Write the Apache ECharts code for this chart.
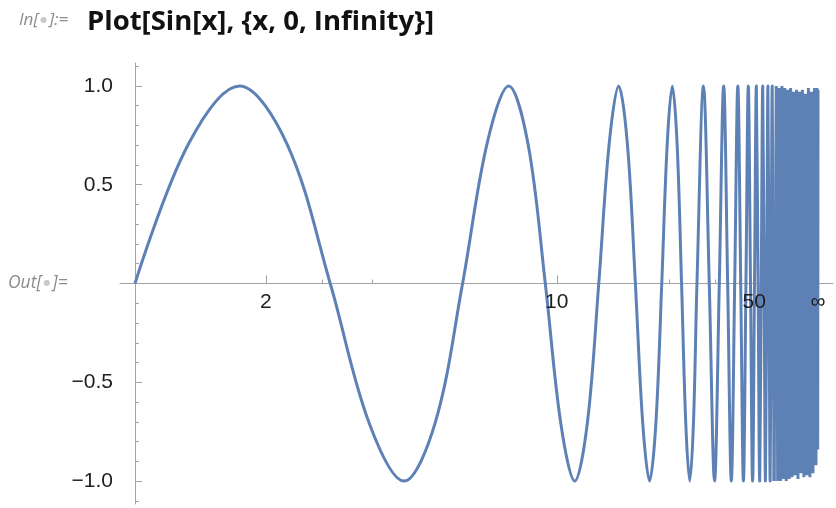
<!DOCTYPE html>
<html><head><meta charset="utf-8">
<script src="https://cdn.jsdelivr.net/npm/echarts@6/dist/echarts.min.js"></script>
<style>html,body{margin:0;padding:0;background:#fff}#c{width:836px;height:508px}</style>
</head><body><div id="c"></div>
<script>
// ---- data (x in natural units) ----
const curveX = [0, 0.785, 1.571, 2.356, 3.142, 3.927, 4.712, 5.498, 6.283, 7.069, 7.854, 8.639,
  9.425, 10.21, 10.996, 11.781, 12.566, 13.352, 14.137, 14.923, 15.708, 16.493, 17.279, 18.064,
  18.85, 19.635, 20.42, 21.206, 21.991, 22.777, 23.562, 24.347, 25.133,
  26.704, 28.274, 29.845, 31.416, 32.987, 34.558, 36.128, 37.699, 39.27, 40.841, 42.412, 43.982,
  45.553, 47.124, 48.695, 50.265, 51.836, 53.407, 54.978, 56.549, 58.119, 59.69, 61.261, 62.832,
  64.403, 65.973, 67.544, 69.115, 70.686, 72.257, 73.827];
const curveY = [0, 0.707, 1, 0.707, 0, -0.707, -1, -0.707, 0, 0.707, 1, 0.707,
  0, -0.707, -1, -0.707, 0, 0.707, 1, 0.707, 0, -0.707, -1, -0.707,
  0, 0.707, 1, 0.707, 0, -0.707, -1, -0.707, 0,
  1, 0, -1, 0, 1, 0, -1, 0, 1, 0, -1, 0,
  1, 0, -1, 0, 1, 0, -1, 0, 1, 0, -1, 0,
  1, 0, -1, 0, 1, 0, -1];
// dense (aliased) part of the curve approaching infinity
const bandX = [73.827, 77.8, 80.6, 83.7, 87, 90.5, 94.4, 98.7, 103, 108, 114, 120, 127, 135, 144,
  154, 165, 179, 194, 213, 236, 264, 300, 348, 413, 508, 661, 944, 1650, 3300, 11000, 1000000];
const bandY = [-1, 1, -1, 0.99, -1, 1, -0.99, 0.99, -1, 0.98, -0.99, 0.99, -0.98, 0.97, -0.97,
  0.98, -0.99, 0.97, -0.96, 0.98, -0.98, 0.96, -0.97, 0.99, -0.98, 0.97, -0.96, 0.99, -0.92, 0.99, -0.84, 0.98];
const xMajorTicks = [2, 10, 50, Infinity];
const xMajorLabels = ['2', '10', '50', '\u221e'];
const xMinorTicks = [3, 4, 20, 30, 40];
const yMajorTicks = [-1, -0.5, 0.5, 1];
const yMinorTicks = [-1.1, -0.9, -0.8, -0.7, -0.6, -0.4, -0.3, -0.2, -0.1, 0.1, 0.2, 0.3, 0.4, 0.6, 0.7, 0.8, 0.9, 1.1];

// axis scale for the infinite range [0, Infinity) -> [0, 1]
function scaleX(x) {
  if (x === Infinity) return 1;
  return (2 / Math.PI) * Math.atan(x / (6.268 + 1.46 * x / (x + 15)));
}

const AX = '#a3a3a3';
const FONT = 'Liberation Sans, Arial, sans-serif';
const xMajorPos = xMajorTicks.map(scaleX);
const pad = 15 / 683;

const chart = echarts.init(document.getElementById('c'), null, {renderer: 'canvas'});
chart.setOption({
  animation: false,
  backgroundColor: '#fff',
  grid: {left: 120, right: 3, top: 63, bottom: 4, containLabel: false, outerBoundsMode: 'none'},
  xAxis: [
    {type: 'value', position: 'bottom', min: -pad, max: 1 + pad,
     axisLine: {show: true, onZero: true, lineStyle: {color: AX, width: 1}},
     axisTick: {show: true, inside: true, length: 8, customValues: xMajorPos, lineStyle: {color: AX}},
     axisLabel: {show: false}, splitLine: {show: false}},
    {type: 'value', position: 'bottom', min: -pad, max: 1 + pad,
     axisLine: {show: false, onZero: true},
     axisTick: {show: true, inside: true, length: 4, customValues: xMinorTicks.map(scaleX), lineStyle: {color: AX}},
     axisLabel: {show: false}, splitLine: {show: false}}
  ],
  yAxis: [
    {type: 'value', position: 'left', min: -1.116, max: 1.116,
     axisLine: {show: true, onZero: true, lineStyle: {color: AX, width: 1}},
     axisTick: {show: true, inside: true, length: 7, customValues: yMajorTicks, lineStyle: {color: AX}},
     axisLabel: {show: true, margin: 7, customValues: yMajorTicks, fontFamily: FONT, fontSize: 21, color: '#1e1e1e',
       formatter: v => (v < 0 ? '\u2212' : '') + Math.abs(v).toFixed(1)},
     splitLine: {show: false}},
    {type: 'value', position: 'left', min: -1.116, max: 1.116,
     axisLine: {show: false, onZero: true},
     axisTick: {show: true, inside: true, length: 4, customValues: yMinorTicks, lineStyle: {color: AX}},
     axisLabel: {show: false}, splitLine: {show: false}}
  ],
  series: [
    {type: 'line', xAxisIndex: 0, yAxisIndex: 0, smooth: 0.35, symbol: 'none', clip: false,
     data: curveX.map((x, i) => [scaleX(x), curveY[i]]),
     lineStyle: {color: '#5e81b5', width: 3, join: 'round'}},
    {type: 'line', xAxisIndex: 0, yAxisIndex: 0, smooth: false, symbol: 'none', clip: false,
     data: bandX.map((x, i) => [scaleX(x), bandY[i]]),
     lineStyle: {color: '#5e81b5', width: 3, join: 'bevel'}},
    // x-axis tick labels placed on the axis at y = 0
    {type: 'scatter', xAxisIndex: 0, yAxisIndex: 0, symbolSize: 0, z: 10, silent: true,
     itemStyle: {opacity: 1},
     data: xMajorPos.map((t, i) => ({value: [t, 0], name: xMajorLabels[i]})),
     label: {show: true, position: 'bottom', distance: 8, formatter: p => p.name, opacity: 1,
       fontFamily: FONT, fontSize: 21, color: '#1e1e1e'}}
  ],
  graphic: [
    {type: 'text', style: {x: 19, y: 20, verticalAlign: 'middle', align: 'left',
      text: '{a|In[}{d|\u25cf}{a|]:=}',
      rich: {a: {fontFamily: 'Open Sans', fontStyle: 'italic', fontSize: 17, fill: '#8c8c8c'},
             d: {fontFamily: 'DejaVu Sans', fontSize: 8, fill: '#c8c8c8', padding: [0, 2, 0, 2]}}}},
    {type: 'text', style: {x: 87, y: 22.5, verticalAlign: 'middle', align: 'left',
      text: 'Plot[Sin[x], {x, 0, Infinity}]', font: 'bold 27.5px "Open Sans"', fill: '#111'}},
    {type: 'text', style: {x: 8, y: 283, verticalAlign: 'middle', align: 'left',
      text: '{a|Out[}{d|\u25cf}{a|]=}',
      rich: {a: {fontFamily: 'Open Sans', fontStyle: 'italic', fontSize: 17.5, fill: '#8c8c8c'},
             d: {fontFamily: 'DejaVu Sans', fontSize: 8, fill: '#c8c8c8', padding: [0, 2, 0, 2]}}}}
  ]
});
</script></body></html>
